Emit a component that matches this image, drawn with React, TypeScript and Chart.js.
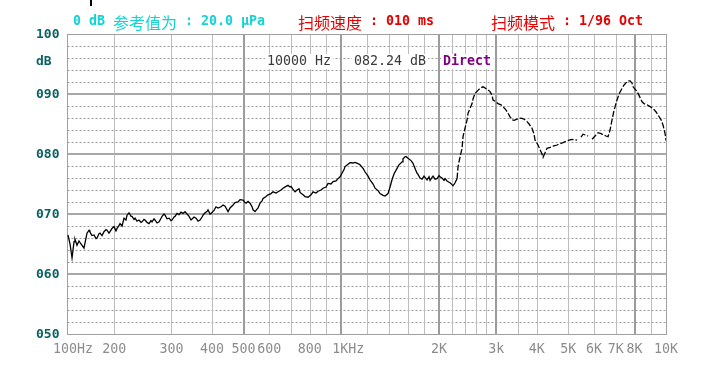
import React, { useEffect, useRef } from "react";
import { Chart, registerables } from "chart.js";

Chart.register(...registerables);

// ---------- data ----------
const freqHz: number[] = [
  144, 146.1, 148.2, 150.3, 151.3, 153.5, 155.7, 157.9, 161.3, 162.5,
  164.8, 167.2, 168.3, 170.7, 173.2, 175.7, 176.9, 179.4, 180.7, 183.3,
  185.9, 188.6, 189.9, 192.6, 194.0, 196.8, 199.6, 202.4, 203.9, 206.8,
  208.3, 211.3, 214.3, 217.3, 218.9, 222.0, 225.2, 226.8, 230.0, 231.7,
  234.9, 238.3, 241.7, 243.4, 246.9, 248.6, 252.2, 255.8, 259.4, 261.3,
  265.0, 266.9, 270.8, 274.7, 278.6, 280.6, 284.6, 286.6, 290.7, 294.8,
  299.0, 301.2, 305.5, 307.6, 312.0, 316.5, 321.0, 325.6, 330.2, 335.0,
  339.8, 344.6, 352.0, 357.1, 362.2, 367.3, 372.6, 375.2, 380.6, 386.0,
  388.7, 394.3, 397.1, 405.6, 411.4, 417.4, 426.3, 432.4, 438.6, 441.7,
  448.0, 454.4, 464.1, 470.8, 480.9, 487.8, 498.3, 505.4, 509.0, 516.2,
  523.6, 531.1, 534.9, 542.5, 554.2, 562.1, 570.2, 574.2, 586.6, 594.9,
  607.7, 616.4, 629.6, 638.6, 652.3, 661.7, 675.9, 685.5, 695.3, 700.3,
  710.3, 720.4, 730.7, 741.1, 746.4, 762.5, 773.4, 790.0, 807.0, 818.5,
  836.1, 848.1, 866.3, 878.7, 897.6, 910.3, 929.9, 943.2, 963.5, 977.2,
  991.2, 1005, 1020, 1027, 1049, 1064, 1087, 1102, 1126, 1142,
  1167, 1184, 1209, 1226, 1253, 1271, 1298, 1316, 1345, 1364,
  1393, 1413, 1433, 1454, 1485, 1506, 1539, 1549, 1572, 1583,
  1605, 1640, 1663, 1687, 1711, 1723, 1748, 1773, 1798, 1837,
  1863, 1877, 1903, 1917, 1944, 1972, 2000, 2014, 2043, 2072,
  2087, 2117, 2147, 2162, 2193, 2209, 2241, 2273, 2289, 2321,
  2355, 2371, 2405, 2440, 2457, 2492, 2528, 2546, 2582, 2637,
  2675, 2733, 2811, 2872, 2913, 2933, 2996, 3039, 3105, 3149,
  3217, 3263, 3309, 3357, 3405, 3478, 3527, 3603, 3655, 3733,
  3787, 3868, 3923, 3951, 4036, 4094, 4152, 4182, 4242, 4302,
  4395, 4489, 4618, 4718, 4819, 4958, 5029, 5137, 5210, 5322,
  5398, 5475, 5553, 5754, 5836, 5919, 6047, 6177, 6310, 6400,
  6537, 6631, 6725, 6821, 6919, 7068, 7169, 7323, 7427, 7587,
  7695, 7750, 7861, 7917, 8087, 8203, 8320, 8439, 8559, 8743,
  8931, 9123, 9320, 9453, 9656, 9794, 9934, 10000,
];

const levelDb: (number | null)[] = [
  66.5, 65.0, 62.7, 65.4, 65.8, 64.8, 65.5, 65.0, 64.3, 65.2,
  66.8, 67.3, 67.0, 66.4, 66.5, 65.9, 66.0, 66.7, 66.8, 66.4,
  67.05, 67.4, 67.3, 66.8, 67.05, 67.6, 67.9, 67.2, 67.6, 68.1,
  68.4, 68.0, 69.3, 69.0, 69.8, 70.2, 69.6, 69.6, 69.1, 69.3,
  68.8, 69.0, 68.6, 68.7, 69.1, 69.0, 68.6, 68.4, 68.9, 68.7,
  69.2, 69.0, 68.5, 68.7, 69.3, 69.6, 70.0, 69.8, 69.2, 69.3,
  68.9, 69.0, 69.5, 69.6, 70.1, 69.9, 70.3, 70.1, 70.4, 70.0,
  69.6, 69.0, 69.5, 69.3, 68.8, 69.0, 69.5, 69.8, 70.2, 70.4,
  70.7, 70.0, 70.1, 70.6, 71.2, 71.0, 71.2, 71.5, 71.3, 71.0,
  70.4, 71.0, 71.5, 71.9, 72.0, 72.4, 72.3, 71.9, 71.8, 72.1,
  71.8, 71.2, 70.7, 70.4, 71.0, 71.8, 72.2, 72.6, 72.9, 73.2,
  73.4, 73.7, 73.5, 73.7, 74.0, 74.3, 74.6, 74.8, 74.5, 74.6,
  74.1, 73.7, 74.0, 74.2, 73.6, 73.2, 72.9, 72.8, 73.2, 73.7,
  73.5, 73.8, 74.0, 74.3, 74.5, 75.1, 75.0, 75.4, 75.5, 75.9,
  76.2, 76.8, 77.4, 77.9, 78.3, 78.55, 78.5, 78.6, 78.4, 78.2,
  77.6, 77.0, 76.3, 75.7, 75.0, 74.3, 73.9, 73.4, 73.1, 73.0,
  73.4, 74.5, 75.7, 76.7, 77.6, 78.2, 78.7, 79.2, 79.55, 79.6,
  79.3, 78.9, 78.45, 77.6, 76.8, 76.6, 76.0, 75.8, 76.3, 75.7,
  76.2, 75.6, 76.1, 76.3, 75.8, 75.9, 76.4, 76.2, 76.0, 75.6,
  75.9, 75.5, 75.3, 75.2, 74.9, 74.7, 75.2, 75.9, 77.9, 79.5,
  81.0, 82.9, 84.3, 85.7, 86.8, 87.6, 88.4, 89.2, 90.1, 90.6,
  90.95, 91.2, 90.8, 90.4, 89.8, 89.0, 88.7, 88.4, 88.2, 87.9,
  87.3, 86.8, 86.2, 85.7, 85.6, 85.8, 86.0, 85.95, 85.8, 85.4,
  85.0, 84.3, 83.3, 82.3, 81.5, 80.7, 80.0, 79.45, 80.2, 80.95,
  81.1, 81.3, 81.5, 81.7, 81.9, 82.2, 82.3, 82.45, 82.4, 82.3,
  null, 82.8, 83.3, 83.0, null, 82.45, 83.0, 83.55, 83.4, 83.2,
  83.0, 82.9, 84.0, 85.7, 87.3, 89.0, 90.0, 90.95, 91.5, 92.05,
  92.2, 92.2, 91.8, 91.2, 90.6, 90.1, 89.4, 88.7, 88.4, 88.2,
  87.9, 87.6, 87.0, 86.5, 85.7, 84.8, 83.4, 82.24,
];

const xMinHz = 143;
const xMaxHz = 10000;
const yMinDb = 50;
const yMaxDb = 100;

const xTickHz = [143, 200, 300, 400, 500, 600, 800, 1000, 2000, 3000, 4000, 5000, 6000, 7000, 8000, 10000];
const xTickText = ["100Hz", "200", "300", "400", "500", "600", "800", "1KHz", "2K", "3k", "4K", "5K", "6K", "7K", "8K", "10K"];
const xGridHz = [200, 300, 400, 500, 600, 700, 800, 900, 1000, 1200, 1400, 1600, 1800, 2000, 2200, 2400, 2600, 2800, 3000, 3500, 4000, 5000, 6000, 7000, 8000, 9000];
const xGridStrongHz = [500, 1000, 2000, 3000, 8000];

const yTickDb = [100, 90, 80, 70, 60, 50];
const yTickText = ["100", "090", "080", "070", "060", "050"];
const yMajorDb = [60, 70, 80, 90];
const yMinorDb = [52, 54, 56, 58, 62, 64, 66, 68, 72, 74, 76, 78, 82, 84, 86, 88, 92, 94, 96, 98];
const yUnitText = "dB";

const headerRef = ["0 dB ", "参考值为", " : 20.0 μPa"];
const headerSpeed = ["扫频速度", " : 010 ms"];
const headerMode = ["扫频模式", " : 1/96 Oct"];
const cursorFreqText = "10000 Hz";
const cursorLevelText = "082.24 dB";
const cursorModeText = "Direct";

// ---------- styles ----------
const MONO = "'DejaVu Sans Mono', 'Liberation Mono', monospace";
const CJK = "'Noto Sans CJK SC', sans-serif";
const xLabelShift: Record<string, number> = { "100Hz": 6, "1KHz": 7 };

function drawRuns(ctx: CanvasRenderingContext2D, runs: string[], x: number, y: number, color: string, bold: boolean) {
  ctx.fillStyle = color;
  ctx.textBaseline = "middle";
  ctx.textAlign = "left";
  let cx = x;
  for (const r of runs) {
    const isCjk = /[\u4e00-\u9fff]/.test(r);
    ctx.font = isCjk ? `16px ${CJK}` : `${bold ? "bold " : ""}13.3px ${MONO}`;
    ctx.fillText(r, cx, isCjk ? y + 0.5 : y);
    cx += ctx.measureText(r).width;
  }
}

const decorPlugin = {
  id: "decor",
  beforeDraw(chart: any) {
    const ctx: CanvasRenderingContext2D = chart.ctx;
    ctx.save();
    ctx.fillStyle = "#ffffff";
    ctx.fillRect(0, 0, chart.width, chart.height);
    ctx.restore();
  },
  beforeDatasetsDraw(chart: any) {
    const ctx: CanvasRenderingContext2D = chart.ctx;
    const xs = chart.scales.x;
    const ys = chart.scales.y;
    const a = chart.chartArea;
    const L = Math.round(a.left) + 0.5;
    const R = Math.round(a.right) + 0.5;
    const T = Math.round(a.top) + 0.5;
    const B = Math.round(a.bottom) + 0.5;
    ctx.save();
    // dotted minor horizontals
    ctx.strokeStyle = "#9a9a9a";
    ctx.lineWidth = 1;
    ctx.setLineDash([2, 2]);
    for (const v of yMinorDb) {
      const y = Math.round(ys.getPixelForValue(v)) + 0.5;
      ctx.beginPath();
      ctx.moveTo(L, y);
      ctx.lineTo(R, y);
      ctx.stroke();
    }
    ctx.setLineDash([]);
    // vertical grid
    for (const f of xGridHz) {
      const strong = xGridStrongHz.includes(f);
      ctx.strokeStyle = strong ? "#9c9c9c" : "#bdbdbd";
      ctx.lineWidth = strong ? 2 : 1;
      const px = xs.getPixelForValue(f);
      const x = strong ? Math.round(px) : Math.round(px) + 0.5;
      ctx.beginPath();
      ctx.moveTo(x, T);
      ctx.lineTo(x, B);
      ctx.stroke();
    }
    // major horizontals
    ctx.strokeStyle = "#a8a8a8";
    ctx.lineWidth = 2;
    for (const v of yMajorDb) {
      const y = Math.round(ys.getPixelForValue(v));
      ctx.beginPath();
      ctx.moveTo(L, y);
      ctx.lineTo(R, y);
      ctx.stroke();
    }
    // border
    ctx.strokeStyle = "#a0a0a0";
    ctx.lineWidth = 1;
    ctx.strokeRect(L, T, R - L, B - T);
    ctx.restore();
  },
  afterDraw(chart: any) {
    const ctx: CanvasRenderingContext2D = chart.ctx;
    const xs = chart.scales.x;
    const ys = chart.scales.y;
    const a = chart.chartArea;
    ctx.save();
    // y labels
    ctx.fillStyle = "#0b6262";
    ctx.font = `bold 13px ${MONO}`;
    ctx.textBaseline = "middle";
    ctx.textAlign = "left";
    yTickDb.forEach((v, i) => {
      ctx.fillText(yTickText[i], 36, ys.getPixelForValue(v) + 1);
    });
    ctx.fillText(yUnitText, 36, 62);
    // x labels
    ctx.fillStyle = "#8c8c8c";
    ctx.font = `13.3px ${MONO}`;
    ctx.textAlign = "center";
    xTickHz.forEach((f, i) => {
      const t = xTickText[i];
      const shift = xLabelShift[t] || 0;
      ctx.fillText(t, xs.getPixelForValue(f) + shift, a.bottom + 16);
    });
    // header
    drawRuns(ctx, headerRef, 73, 22, "#12d4d4", true);
    drawRuns(ctx, headerSpeed, 298, 22, "#e60000", true);
    drawRuns(ctx, headerMode, 491, 22, "#e60000", true);
    // cursor readout with white background
    ctx.font = `13.3px ${MONO}`;
    const w1 = ctx.measureText(cursorFreqText).width;
    const w2 = ctx.measureText(cursorLevelText).width;
    ctx.font = `bold 13.3px ${MONO}`;
    const w3 = ctx.measureText(cursorModeText).width;
    ctx.fillStyle = "#ffffff";
    ctx.fillRect(265, 54, w1 + 4, 15);
    ctx.fillRect(352, 54, w2 + 4, 15);
    ctx.fillRect(441, 54, w3 + 4, 15);
    drawRuns(ctx, [cursorFreqText], 267, 61.5, "#3a3a3a", false);
    drawRuns(ctx, [cursorLevelText], 354, 61.5, "#3a3a3a", false);
    drawRuns(ctx, [cursorModeText], 443, 61.5, "#800080", true);
    // small marker at top
    ctx.fillStyle = "#000000";
    ctx.fillRect(90, 0, 2, 6);
    ctx.restore();
  },
};

export default function App() {
  const canvasRef = useRef<HTMLCanvasElement | null>(null);

  useEffect(() => {
    const canvas = canvasRef.current;
    if (!canvas) return;
    const points = freqHz.map((f, i) => ({ x: f, y: levelDb[i] }));
    const chart = new Chart(canvas, {
      type: "line",
      data: {
        datasets: [
          {
            data: points as any,
            borderColor: "#000000",
            borderWidth: 1.3,
            pointRadius: 0,
            tension: 0,
            spanGaps: false,
            segment: {
              borderDash: (ctx: any) => (ctx.p0.parsed.x > 2250 ? [6, 2] : undefined),
            },
          },
        ],
      },
      options: {
        responsive: false,
        maintainAspectRatio: false,
        animation: false,
        layout: { padding: { left: 67, right: 38, top: 34, bottom: 44 } },
        scales: {
          x: { type: "logarithmic", min: xMinHz, max: xMaxHz, display: false },
          y: { type: "linear", min: yMinDb, max: yMaxDb, display: false },
        },
        plugins: {
          legend: { display: false },
          tooltip: { enabled: false },
        },
      },
      plugins: [decorPlugin],
    });
    return () => chart.destroy();
  }, []);

  return (
    <div style={{ position: "fixed", left: 0, top: 0, width: 704, height: 378, background: "#fff" }}>
      <canvas ref={canvasRef} width={704} height={378} style={{ display: "block", width: 704, height: 378 }} />
    </div>
  );
}
